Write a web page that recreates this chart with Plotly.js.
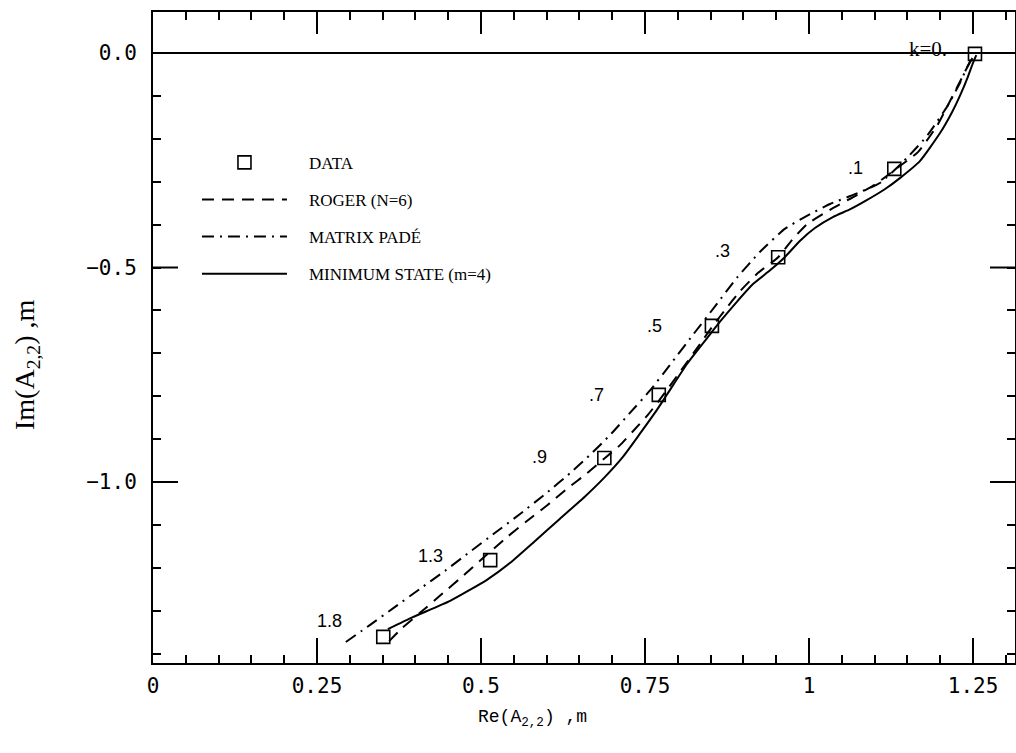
<!DOCTYPE html>
<html>
<head>
<meta charset="utf-8">
<script src="https://cdn.plot.ly/plotly-3.0.1.min.js"></script>
<style>html,body{margin:0;padding:0;background:#fff;}#chart{width:1016px;height:753px;}</style>
</head>
<body>
<div id="chart"></div>
<script>
// ---- axis ranges and tick labels ----
const xRange = [0, 1.314];
const yRange = [-1.4219, 0.0956];
const xTickVals = [0, 0.25, 0.5, 0.75, 1, 1.25];
const xTickText = ['0', '0.25', '0.5', '0.75', '1', '1.25'];
const yTickVals = [0, -0.5, -1.0];
const yTickText = ['0.0', '\u22120.5', '\u22121.0'];
const xMinorStep = 0.05;
const yMinorStep = 0.1;

// ---- DATA points (reduced frequency k) ----
const kLabels = ['k=0.', '.1', '.3', '.5', '.7', '.9', '1.3', '1.8'];
const dataRe = [1.253, 1.130, 0.953, 0.852, 0.771, 0.688, 0.514, 0.351];
const dataIm = [-0.002, -0.270, -0.476, -0.636, -0.797, -0.944, -1.182, -1.361];

// ---- ROGER (N=6) ----
const rogerRe = [0.360, 0.380, 0.407, 0.439, 0.474, 0.498, 0.540, 0.570, 0.601, 0.631, 0.662, 0.689, 0.712, 0.732, 0.753, 0.773, 0.803, 0.834, 0.852, 0.872, 0.895, 0.922, 0.953, 0.974, 0.997, 1.037, 1.073, 1.104, 1.130, 1.166, 1.195, 1.215, 1.232, 1.247, 1.253];
const rogerIm = [-1.371, -1.340, -1.305, -1.263, -1.217, -1.184, -1.128, -1.091, -1.054, -1.016, -0.979, -0.944, -0.914, -0.881, -0.846, -0.807, -0.744, -0.678, -0.639, -0.599, -0.555, -0.513, -0.476, -0.436, -0.399, -0.361, -0.331, -0.303, -0.273, -0.231, -0.170, -0.112, -0.061, -0.016, -0.002];

// ---- MATRIX PADE ----
const padeRe = [0.294, 0.331, 0.369, 0.407, 0.445, 0.483, 0.521, 0.559, 0.598, 0.636, 0.666, 0.697, 0.727, 0.758, 0.788, 0.823, 0.857, 0.890, 0.925, 0.963, 0.994, 1.032, 1.070, 1.108, 1.149, 1.181, 1.212, 1.230, 1.242, 1.252];
const padeIm = [-1.373, -1.333, -1.291, -1.249, -1.207, -1.163, -1.119, -1.075, -1.028, -0.979, -0.937, -0.890, -0.839, -0.786, -0.727, -0.657, -0.590, -0.524, -0.464, -0.410, -0.382, -0.352, -0.329, -0.303, -0.245, -0.191, -0.121, -0.070, -0.030, -0.005];

// ---- MINIMUM STATE (m=4) ----
const msRe = [0.358, 0.396, 0.453, 0.509, 0.544, 0.582, 0.620, 0.659, 0.689, 0.716, 0.742, 0.765, 0.784, 0.814, 0.845, 0.864, 0.890, 0.915, 0.941, 0.963, 0.986, 1.009, 1.037, 1.063, 1.088, 1.116, 1.139, 1.169, 1.200, 1.218, 1.230, 1.242, 1.250, 1.255];
const msIm = [-1.343, -1.315, -1.277, -1.228, -1.189, -1.138, -1.086, -1.033, -0.988, -0.942, -0.888, -0.839, -0.795, -0.725, -0.664, -0.627, -0.580, -0.538, -0.506, -0.476, -0.438, -0.408, -0.382, -0.364, -0.343, -0.317, -0.291, -0.252, -0.186, -0.138, -0.100, -0.056, -0.023, -0.005];

const seriesNames = ['DATA', 'ROGER (N=6)', 'MATRIX PAD\u00c9', 'MINIMUM STATE (m=4)'];

// label offsets (px) relative to the data squares
const labelShiftX = [-47, -39, -56, -57, -62, -65, -60, -54];
const labelShiftY = [5, 1, 6, 0, 0, 1, 4, 16];

const W = 1016, H = 753;
const margin = {l: 153, r: 1, t: 12, b: 90};
const plotW = W - margin.l - margin.r, plotH = H - margin.t - margin.b;
const majorLen = 25, topMajorLen = 22;

const lineStyle = (dash) => ({color: '#000', width: 2, dash: dash, shape: 'spline', smoothing: 0.5});
const legendPad = '\u2003';

const carrier = (xa, ya) => ({x: [], y: [], xaxis: xa, yaxis: ya, mode: 'markers', showlegend: false, hoverinfo: 'skip'});

const traces = [
  {x: rogerRe, y: rogerIm, mode: 'lines', name: legendPad + seriesNames[1], line: lineStyle('12px,8px'), legendrank: 2, legendgroup: 'g2'},
  {x: padeRe, y: padeIm, mode: 'lines', name: legendPad + seriesNames[2], line: lineStyle('12px,6px,2px,6px'), legendrank: 3, legendgroup: 'g3'},
  {x: msRe, y: msIm, mode: 'lines', name: legendPad + seriesNames[3], line: lineStyle('solid'), legendrank: 4, legendgroup: 'g4'},
  {x: dataRe, y: dataIm, mode: 'markers', name: legendPad + seriesNames[0], legendrank: 1, legendgroup: 'g1',
   marker: {symbol: 'square-open', size: 13, color: '#000', line: {color: '#000', width: 1.6}}},
  // carriers for the minor-tick overlay axes (no marks)
  carrier('x2', 'y'), carrier('x', 'y2')
];

const annotations = kLabels.map((t, i) => ({
  x: dataRe[i], y: dataIm[i], xref: 'x', yref: 'y', text: t, showarrow: false,
  xshift: labelShiftX[i], yshift: labelShiftY[i],
  font: {family: i === 0 ? 'Liberation Serif' : 'Liberation Sans', size: i === 0 ? 21 : 18, color: '#000'}
}));

annotations.push({
  xref: 'paper', yref: 'paper', x: 0.44, y: -0.085, text: 'Re(A<sub>2,2</sub>) ,m', showarrow: false,
  xanchor: 'center', yanchor: 'middle', font: {family: 'Liberation Mono', size: 18, color: '#000'}
});
annotations.push({
  xref: 'paper', yref: 'paper', x: -0.146, y: 0.458, text: 'Im(A<sub>2,2</sub>) ,m', showarrow: false,
  textangle: -90, xanchor: 'center', yanchor: 'middle', font: {family: 'Liberation Serif', size: 28, color: '#000'}
});

// long (major) tick marks at the labelled tick values, on all four sides
const tickLine = {color: '#000', width: 2};
const shapes = [];
xTickVals.filter(v => v > xRange[0]).forEach(v => {
  shapes.push({type: 'line', xref: 'x', yref: 'paper', x0: v, x1: v, y0: 0, y1: majorLen / plotH, line: tickLine});
  shapes.push({type: 'line', xref: 'x', yref: 'paper', x0: v, x1: v, y0: 1, y1: 1 - topMajorLen / plotH, line: tickLine});
});
yTickVals.filter(v => v !== 0).forEach(v => {
  shapes.push({type: 'line', xref: 'paper', yref: 'y', x0: 0, x1: majorLen / plotW, y0: v, y1: v, line: tickLine});
  shapes.push({type: 'line', xref: 'paper', yref: 'y', x0: 1, x1: 1 - majorLen / plotW, y0: v, y1: v, line: tickLine});
});

const mainCommon = {
  ticks: '', showline: true, linecolor: '#000', linewidth: 2, mirror: true, showgrid: false
};
const tickAxis = (len, step) => ({
  ticks: 'inside', ticklen: len, tickwidth: 2, tickcolor: '#000',
  showline: false, mirror: 'ticks', showgrid: false, zeroline: false,
  showticklabels: false, tickmode: 'linear', tick0: 0, dtick: step
});

const layout = {
  width: W, height: H,
  margin: margin,
  paper_bgcolor: '#fff', plot_bgcolor: '#fff',
  showlegend: true,
  legend: {
    x: 0.051, y: 0.796, xanchor: 'left', yanchor: 'top',
    bgcolor: 'rgba(0,0,0,0)', borderwidth: 0,
    font: {family: 'Liberation Serif', size: 17, color: '#000'},
    itemwidth: 85, tracegroupgap: 12, traceorder: 'grouped'
  },
  xaxis: Object.assign({}, mainCommon, {
    range: xRange, tickmode: 'array', tickvals: xTickVals, ticktext: xTickText,
    zeroline: false,
    tickfont: {family: 'DejaVu Sans Mono', size: 21, color: '#000'},
    ticklabelstandoff: 3
  }),
  yaxis: Object.assign({}, mainCommon, {
    range: yRange, tickmode: 'array', tickvals: yTickVals, ticktext: yTickText,
    zeroline: true, zerolinecolor: '#000', zerolinewidth: 1.5,
    tickfont: {family: 'DejaVu Sans Mono', size: 21, color: '#000'},
    ticklabelstandoff: 10
  }),
  xaxis2: Object.assign(tickAxis(8, xMinorStep), {overlaying: 'x', anchor: 'y', side: 'bottom', range: xRange}),
  yaxis2: Object.assign(tickAxis(8, yMinorStep), {overlaying: 'y', anchor: 'x', side: 'left', range: yRange}),
  shapes: shapes,
  annotations: annotations
};

Plotly.newPlot('chart', traces, layout, {staticPlot: true, displayModeBar: false});
</script>
</body>
</html>
